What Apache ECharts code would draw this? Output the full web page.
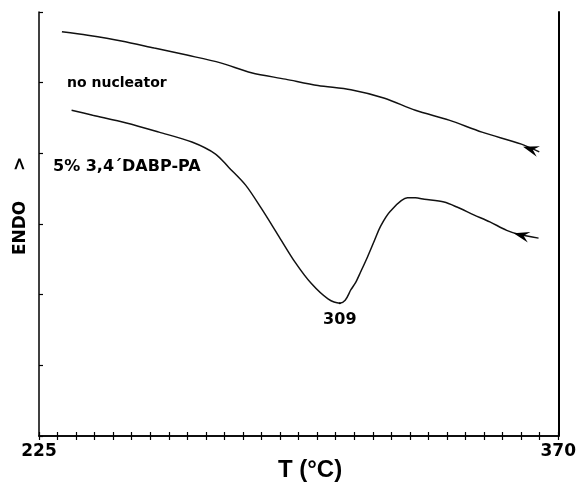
<!DOCTYPE html>
<html>
<head>
<meta charset="utf-8">
<script src="https://cdn.jsdelivr.net/npm/echarts@6/dist/echarts.min.js"></script>
<style>
  html, body { margin: 0; padding: 0; background: #fff; }
</style>
</head>
<body>
<div id="main" style="width:579px;height:485px"></div>
<script>
// DSC cooling traces (arbitrary heat-flow units, endo up)
var noNucT = [231.4, 238.6, 248.0, 257.2, 266.3, 275.7, 284.3, 293.8, 302.9, 312.1, 321.5, 330.1, 339.5, 348.7, 359.7, 364.7];
var noNucV = [5.72, 5.67, 5.59, 5.49, 5.39, 5.28, 5.14, 5.05, 4.96, 4.90, 4.78, 4.61, 4.47, 4.30, 4.13, 4.02];

var dabpT = [234.1, 240.0, 249.4, 258.5, 267.7, 274.3, 278.0, 282.7, 287.1, 291.8, 296.5, 301.0, 305.7, 309.0, 310.5, 312.1, 313.4, 314.8, 316.7, 318.7, 320.4, 323.1, 327.9, 330.1, 332.6, 338.1, 341.7, 346.4, 350.9, 355.6, 359.2, 364.5];
var dabpV = [4.61, 4.54, 4.43, 4.30, 4.16, 3.99, 3.80, 3.55, 3.22, 2.84, 2.46, 2.16, 1.94, 1.88, 1.92, 2.07, 2.17, 2.32, 2.53, 2.77, 2.97, 3.18, 3.37, 3.37, 3.35, 3.31, 3.24, 3.13, 3.03, 2.91, 2.85, 2.80];

var xLabels = [225, 370];
var peakT = 309;
var peakV = 1.88;
var arrowNoNuc = [362.3, 4.06];
var arrowDabp = [359.7, 2.84];

function pairs(xs, ys) {
  return xs.map(function (x, i) { return [x, ys[i]]; });
}

// 28 minor divisions along the temperature axis
var xTicks = [];
for (var i = 0; i <= 28; i++) xTicks.push(225 + i * 145 / 28);

var arrowPath = 'path://M0,5 L14,0 L9,5 L14,10 Z';

var myChart = echarts.init(document.getElementById('main'));

var option = {
  animation: false,
  grid: { left: 39, right: 17, top: 12, bottom: 49 },
  xAxis: [
    {
      type: 'value', min: 225, max: 370, position: 'bottom',
      axisLine: { lineStyle: { color: '#000', width: 1.5 } },
      axisTick: { inside: true, length: 4, customValues: xTicks, lineStyle: { color: '#000', width: 1.2 } },
      axisLabel: {
        customValues: xLabels, margin: 7,
        color: '#000', fontFamily: 'DejaVu Sans', fontWeight: 'bold', fontSize: 17
      },
      splitLine: { show: false }
    },
    {
      type: 'value', min: 225, max: 370, position: 'top',
      axisLine: { lineStyle: { color: '#000', width: 1.5 } },
      axisTick: { inside: true, length: 4, customValues: xTicks, lineStyle: { color: '#000', width: 1.2 } },
      axisLabel: { show: false },
      splitLine: { show: false }
    }
  ],
  yAxis: [
    {
      type: 'value', min: 0, max: 6, interval: 1, position: 'left',
      axisLine: { show: true, lineStyle: { color: '#000', width: 1.5 } },
      axisTick: { show: true, inside: true, length: 4, lineStyle: { color: '#000', width: 1.2 } },
      axisLabel: { show: false },
      splitLine: { show: false }
    },
    {
      type: 'value', min: 0, max: 6, interval: 1, position: 'right',
      axisLine: { show: true, lineStyle: { color: '#000', width: 2 } },
      axisTick: { show: false },
      axisLabel: { show: false },
      splitLine: { show: false }
    }
  ],
  series: [
    {
      name: 'no nucleator', type: 'line', smooth: 0.3,
      data: pairs(noNucT, noNucV),
      showSymbol: false, lineStyle: { color: '#111', width: 1.5 },
      markPoint: {
        symbol: arrowPath, symbolSize: [16, 11], symbolRotate: -17,
        itemStyle: { color: '#000' }, label: { show: false },
        data: [{ coord: arrowNoNuc }]
      }
    },
    {
      name: '5% 3,4´DABP-PA', type: 'line', smooth: 0.3,
      data: pairs(dabpT, dabpV),
      showSymbol: false, lineStyle: { color: '#111', width: 1.5 },
      markPoint: {
        symbol: arrowPath, symbolSize: [16, 11], symbolRotate: -14,
        itemStyle: { color: '#000' }, label: { show: false },
        data: [
          { coord: arrowDabp },
          {
            coord: [peakT, peakV], symbol: 'circle', symbolSize: 2, symbolRotate: 0,
            label: {
              show: true, position: 'bottom', distance: 8, formatter: String(peakT),
              color: '#000', fontFamily: 'DejaVu Sans', fontWeight: 'bold', fontSize: 16
            }
          }
        ]
      }
    }
  ],
  graphic: [
    {
      type: 'text', x: 67, y: 83,
      style: { text: 'no nucleator', fill: '#000', font: 'bold 14px "DejaVu Sans"', textAlign: 'left', textVerticalAlign: 'middle' }
    },
    {
      type: 'text', x: 53, y: 167,
      style: { text: '5% 3,4´DABP-PA', fill: '#000', font: 'bold 16px "DejaVu Sans"', textAlign: 'left', textVerticalAlign: 'middle' }
    },
    {
      type: 'text', x: 21, y: 206, rotation: Math.PI / 2,
      style: { text: 'ENDO     >', fill: '#000', font: 'bold 17px "DejaVu Sans"', textAlign: 'center', textVerticalAlign: 'middle' }
    },
    {
      type: 'text', x: 310, y: 470,
      style: { text: 'T (°C)', fill: '#000', font: 'bold 24px "Liberation Sans"', textAlign: 'center', textVerticalAlign: 'middle' }
    }
  ]
};

myChart.setOption(option);
</script>
</body>
</html>
